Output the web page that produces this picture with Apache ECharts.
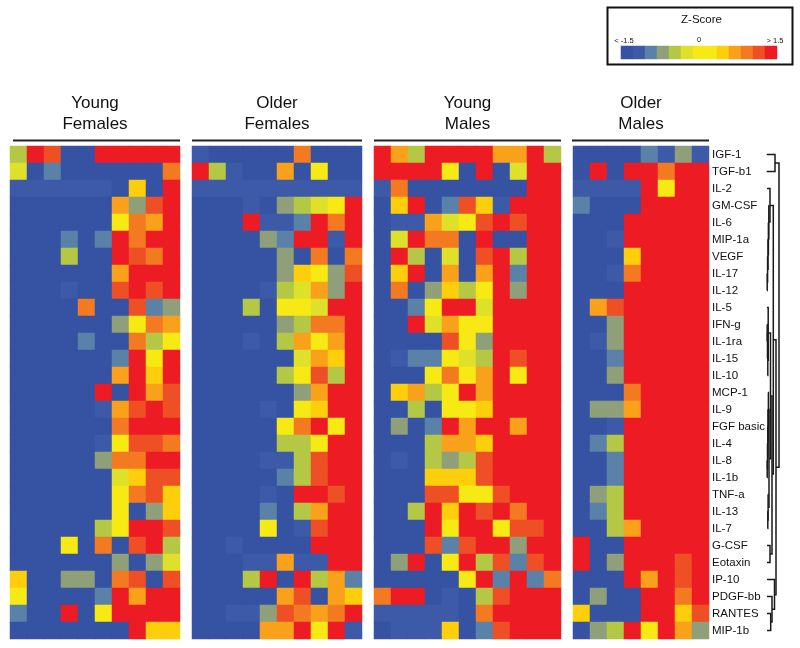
<!DOCTYPE html>
<html><head><meta charset="utf-8">
<style>html,body{margin:0;padding:0;background:#fff}#c{width:800px;height:648px}</style>
<script src="https://cdn.jsdelivr.net/npm/echarts@6/dist/echarts.min.js"></script>
</head><body><div id="c"></div>
<script>
const cytokines = ['IGF-1','TGF-b1','IL-2','GM-CSF','IL-6','MIP-1a','VEGF','IL-17','IL-12','IL-5','IFN-g','IL-1ra','IL-15','IL-10','MCP-1','IL-9','FGF basic','IL-4','IL-8','IL-1b','TNF-a','IL-13','IL-7','G-CSF','Eotaxin','IP-10','PDGF-bb','RANTES','MIP-1b'];
const groupNames = ['Young\nFemales','Older\nFemales','Young\nMales','Older\nMales'];
const levelColors = ['#3552a3','#3c5aa8','#5a82a8','#8f9f7a','#b5c845','#dfe02a','#f7ea14','#fdce0b','#f9a11b','#f37a20','#ee4f24','#ed1c24'];
const legendLevels = [0,1,2,3,4,5,6,6,7,8,9,10,11];
const youngFemales = [
[4,11,10,0,0,11,11,11,11,11],
[5,0,2,0,0,0,0,0,0,9],
[1,1,1,1,1,1,0,7,0,11],
[0,0,0,0,0,0,8,3,10,11],
[0,0,0,0,0,0,6,9,8,11],
[0,0,0,2,0,2,11,9,11,11],
[0,0,0,4,0,0,11,10,9,11],
[0,0,0,0,0,0,8,11,11,11],
[0,0,0,1,0,0,10,11,10,11],
[0,0,0,0,9,0,0,10,2,3],
[0,0,0,0,0,0,3,6,9,8],
[0,0,0,0,2,0,0,9,4,6],
[0,0,0,0,0,0,2,11,6,11],
[0,0,0,0,0,0,8,11,7,11],
[0,0,0,0,0,11,0,11,8,10],
[0,0,0,0,0,1,8,10,11,10],
[0,0,0,0,0,0,9,11,11,11],
[0,0,0,0,0,1,6,10,10,9],
[0,0,0,0,0,3,9,9,11,11],
[0,0,0,0,0,0,5,7,10,10],
[0,0,0,0,0,0,6,9,10,7],
[0,0,0,0,0,0,6,0,3,7],
[0,0,0,0,0,4,6,11,11,10],
[0,0,0,6,0,9,0,10,11,4],
[0,0,0,0,0,0,3,0,3,5],
[7,0,0,3,3,0,9,10,0,10],
[6,0,0,0,0,2,11,8,11,11],
[2,0,0,11,0,6,11,11,11,11],
[0,0,0,0,0,0,0,11,7,7]];
const olderFemales = [
[1,0,0,0,0,0,9,0,0,0],
[11,4,1,0,0,8,0,6,0,0],
[1,1,1,1,1,1,1,1,1,1],
[0,0,0,1,0,3,4,5,6,11],
[0,0,0,11,1,1,2,11,9,11],
[0,0,0,0,3,2,11,11,1,11],
[0,0,0,0,0,3,0,9,0,9],
[0,0,0,0,0,3,7,6,3,10],
[0,0,0,0,1,4,5,8,3,11],
[0,0,0,4,0,6,6,5,11,11],
[0,0,0,0,0,3,4,9,9,11],
[0,0,0,1,0,4,8,6,8,11],
[0,0,0,0,0,0,5,8,7,11],
[0,0,0,0,0,4,6,10,4,11],
[0,0,0,0,0,0,3,8,11,11],
[0,0,0,0,1,0,6,7,11,11],
[0,0,0,0,0,6,9,11,6,11],
[0,0,0,0,0,4,4,6,11,11],
[0,0,0,0,1,1,4,10,11,11],
[0,0,0,0,0,2,4,10,11,11],
[0,0,0,0,1,0,11,11,10,11],
[0,0,0,0,2,0,4,8,11,11],
[0,0,0,0,6,0,1,10,11,11],
[0,0,1,0,0,0,0,11,11,11],
[0,0,0,1,1,8,1,1,11,11],
[0,0,0,4,11,0,11,4,8,2],
[0,0,0,0,0,8,10,0,8,7],
[0,0,1,1,3,10,9,8,9,11],
[0,0,0,0,8,8,11,6,11,1]];
const youngMales = [
[11,8,4,11,11,11,11,8,8,11,4],
[11,11,11,11,6,0,11,0,5,11,11],
[1,9,0,0,0,0,0,0,0,11,11],
[0,7,11,0,2,10,7,1,11,11,11],
[0,1,1,8,5,6,10,11,10,11,11],
[0,5,11,9,9,0,11,0,0,11,11],
[0,11,4,0,5,0,10,11,4,11,11],
[0,7,11,0,8,0,8,11,2,11,11],
[0,9,0,3,7,4,6,11,3,11,11],
[0,0,2,6,11,11,5,11,11,11,11],
[0,0,11,5,8,6,6,11,11,11,11],
[0,0,0,0,10,6,3,11,11,11,11],
[0,1,2,2,6,5,4,11,10,11,11],
[0,0,0,6,9,6,8,11,6,11,11],
[0,7,8,4,6,11,8,11,11,11,11],
[0,0,4,0,6,6,7,11,11,11,11],
[0,3,0,2,11,8,11,11,8,11,11],
[0,0,0,4,8,8,7,11,11,11,11],
[0,1,0,4,3,4,10,11,11,11,11],
[0,0,0,7,7,7,10,11,11,11,11],
[0,0,0,10,10,6,6,10,11,11,11],
[0,0,4,11,7,11,10,11,9,11,11],
[0,0,0,11,6,11,11,6,10,10,11],
[0,0,0,10,2,10,11,11,3,11,11],
[0,3,11,0,6,11,4,10,2,10,11],
[0,0,0,0,0,6,11,2,11,2,9],
[9,11,11,0,1,0,4,10,11,11,11],
[1,1,1,1,1,0,9,11,11,11,11],
[0,1,1,1,7,0,2,10,11,11,11]];
const olderMales = [
[0,0,0,0,2,1,3,1],
[0,11,0,11,11,9,11,11],
[1,1,1,1,11,6,11,11],
[2,0,0,0,11,11,11,11],
[0,0,0,11,11,11,11,11],
[0,0,1,11,11,11,11,11],
[0,0,0,7,11,11,11,11],
[0,0,1,9,11,11,11,11],
[0,0,0,11,11,11,11,11],
[0,8,10,11,11,11,11,11],
[0,0,3,11,11,11,11,11],
[0,1,3,11,11,11,11,11],
[0,0,2,11,11,11,11,11],
[0,0,3,11,11,11,11,11],
[0,0,0,9,11,11,11,11],
[0,3,3,8,11,11,11,11],
[0,0,1,11,11,11,11,11],
[0,2,4,11,11,11,11,11],
[0,0,2,11,11,11,11,11],
[0,0,2,11,11,11,11,11],
[0,3,4,11,11,11,11,11],
[0,2,4,11,11,11,11,11],
[0,0,4,8,11,11,11,11],
[11,0,0,11,11,11,11,11],
[11,0,3,11,11,11,10,11],
[0,0,0,11,8,11,10,11],
[0,3,0,0,11,11,9,11],
[7,0,0,0,11,11,7,10],
[0,3,4,11,6,11,8,3]];
// dendrogram joins: [upper row, lower row, upper branch height, lower branch height, join height]
const dendroJoins = [
[0,1,1.7,1.7,10],
[7,8,2,2,2.2],[6,7.5,2.2,2.2,2.6],[5,6.75,2.6,2.6,3],[4,5.9,3,3,3.4],[3,4.95,3.4,3.4,3.8],[2,3.97,2,3.8,5],
[10,11,2,2,2.2],[10.5,12,2.2,2.2,2.5],[11.2,13,2.5,2.5,2.8],[9,12.1,2,2.8,3.2],
[18,19,2,2,2.2],[17,18.5,2.2,2.2,2.5],[16,17.8,2.5,2.5,2.8],[15,16.9,2.8,2.8,3],[14,16,3,3,3.4],
[21,22,2.5,2.5,2.8],[20,21.5,2.8,2.8,3.1],[15,20.75,3.4,3.1,4],[10.5,17.9,3.2,4,5.5],
[23,24,2,2,5],[14.2,23.5,5.5,5,7],
[3,18.8,5,7,8.3],
[27,28,2,2,5.7],[26,27.5,2,5.7,7],[25,26.75,2,7,9.5],
[10.9,25.9,8.3,9.5,11],
[0.5,18.4,10,11,14]
];

const panels = [youngFemales, olderFemales, youngMales, olderMales];
const panelBoxes = [[10,170],[192,170],[374,187],[573,136]];
const gridTop = 146, gridH = 493;
const FONT = '"Liberation Sans", Arial, sans-serif';

const grids=[], xAxes=[], yAxes=[], series=[];
panels.forEach((rows,i)=>{
  grids.push({left:panelBoxes[i][0],top:gridTop,width:panelBoxes[i][1],height:gridH});
  xAxes.push({type:'category',gridIndex:i,position:'top',data:rows[0].map((_,k)=>k),
    axisLine:{show:false},axisTick:{show:false},axisLabel:{show:false},splitLine:{show:false},
    name:groupNames[i],nameLocation:'middle',nameGap:11,
    nameTextStyle:{fontFamily:FONT,fontSize:17,lineHeight:21,color:'#111'}});
  yAxes.push({type:'category',gridIndex:i,inverse:true,data:cytokines,position:'right',
    axisLine:{show:false},axisTick:{show:false},splitLine:{show:false},
    axisLabel:i===3?{show:true,interval:0,margin:3,fontFamily:FONT,fontSize:11.5,color:'#111'}:{show:false}});
  const data=[];
  rows.forEach((r,y)=>r.forEach((v,x)=>data.push([x,y,v])));
  series.push({type:'heatmap',xAxisIndex:i,yAxisIndex:i,data,progressive:0,animation:false,itemStyle:{borderWidth:0}});
});
// colour key
grids.push({left:621,top:46,width:156,height:13});
xAxes.push({type:'category',gridIndex:4,data:legendLevels.map((_,k)=>k),show:false});
yAxes.push({type:'category',gridIndex:4,data:['k'],show:false});
series.push({type:'heatmap',xAxisIndex:4,yAxisIndex:4,data:legendLevels.map((v,k)=>[k,0,v]),animation:false});
// dendrogram
grids.push({left:765,top:gridTop,width:20,height:gridH});
xAxes.push({type:'value',gridIndex:5,min:0,max:20,show:false});
yAxes.push({type:'value',gridIndex:5,inverse:true,min:-0.5,max:28.5,show:false});
series.push({type:'custom',xAxisIndex:5,yAxisIndex:5,animation:false,silent:true,
  data:dendroJoins,
  encode:{x:[2,3,4],y:[0,1]},
  renderItem(params,api){
    const yT=api.value(0),yB=api.value(1),xT=api.value(2),xB=api.value(3),xJ=api.value(4);
    const pts=[[xT,yT],[xJ,yT],[xJ,yB],[xB,yB]].map(p=>api.coord(p));
    return {type:'polyline',shape:{points:pts},style:{stroke:'#1a1a1a',lineWidth:1.5,fill:null}};
  }});

const rule=(x1,x2)=>({type:'line',shape:{x1,y1:140.5,x2,y2:140.5},style:{stroke:'#222',lineWidth:2}});
const txt=(x,y,t,s,w)=>({type:'text',x,y,style:{text:t,fontFamily:FONT,fontSize:s,fontWeight:w||'normal',fill:'#111',align:'center',verticalAlign:'middle'}});
const chart=echarts.init(document.getElementById('c'),null,{renderer:'canvas'});
chart.setOption({
  animation:false,backgroundColor:'#fff',
  grid:grids,xAxis:xAxes,yAxis:yAxes,series,
  visualMap:{type:'piecewise',show:false,seriesIndex:[0,1,2,3,4],dimension:2,
    pieces:levelColors.map((c,i)=>({value:i,color:c}))},
  graphic:[
    rule(13,180),rule(192,362),rule(374,561),rule(572,709),
    {type:'rect',shape:{x:607.5,y:7.5,width:185,height:57},style:{fill:'#fff',stroke:'#111',lineWidth:2},z:-1},
    txt(701.5,19.5,'Z-Score',11.5),
    txt(624,40.5,'< -1.5',7.5),txt(699,40,'0',7.5),txt(775,40.5,'> 1.5',7.5)
  ]
});
</script></body></html>
